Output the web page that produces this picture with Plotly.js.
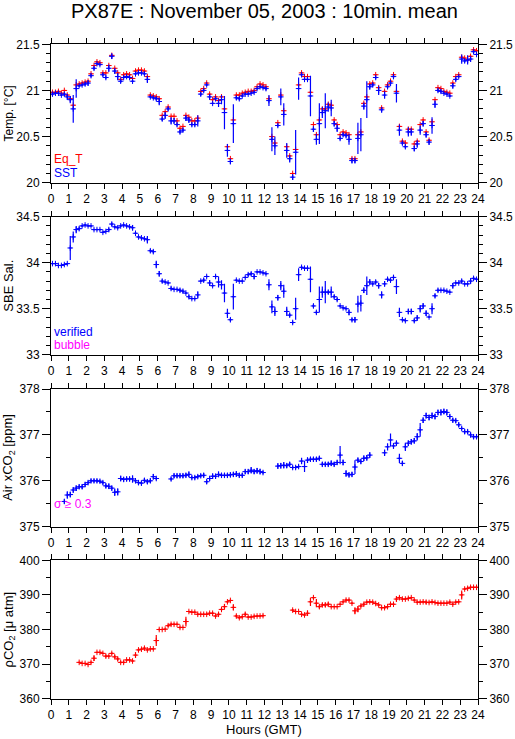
<!DOCTYPE html>
<html><head><meta charset="utf-8">
<script src="https://cdn.plot.ly/plotly-3.0.1.min.js"></script>
<style>html,body{margin:0;padding:0;background:#fff}#chart{width:515px;height:739px}</style>
</head><body><div id="chart"></div>
<script>
// 10-minute sample slots over the day (144 per series)
const SLOT_MINUTES = 10;
const NSLOT = 144;

const eqT = [20.98,20.98,20.99,20.97,21.00,20.95,20.91,20.84,21.06,21.07,21.08,21.09,
 21.10,21.18,21.27,21.31,21.30,21.19,21.19,21.27,21.38,21.24,21.19,21.12,
 21.17,21.18,21.17,21.13,21.21,21.22,21.22,21.21,21.15,20.95,20.94,20.93,
 20.91,20.73,20.77,20.82,20.72,20.72,20.67,20.59,20.61,20.73,20.71,20.67,
 20.67,20.70,20.99,21.02,21.08,20.96,20.90,20.93,20.89,20.93,20.80,20.39,
 20.26,20.68,20.95,20.95,20.97,20.98,20.99,20.99,21.00,21.04,21.07,21.06,
 21.04,20.91,20.50,20.43,20.65,20.95,20.78,20.39,20.29,20.10,20.36,21.06,
 21.19,21.15,21.15,20.98,20.63,20.52,20.68,20.80,20.80,20.85,20.84,20.68,
 20.63,20.52,20.55,20.54,20.52,20.26,20.26,20.52,20.55,20.86,20.93,21.07,
 21.08,21.17,21.03,20.81,20.99,21.06,21.10,21.17,20.99,20.61,20.45,20.43,
 20.58,20.58,20.42,20.45,20.63,20.68,20.55,20.46,20.66,20.90,21.03,21.02,
 20.99,20.98,20.97,21.08,21.15,21.17,21.36,21.35,21.33,21.37,21.44,21.43];

const sst = [20.96,20.97,20.97,20.95,20.96,20.93,20.90,20.80,21.02,21.05,21.06,21.07,
 21.08,21.16,21.24,21.29,21.28,21.17,21.14,21.24,21.37,21.21,21.15,21.10,
 21.14,21.15,21.14,21.10,21.18,21.19,21.19,21.18,21.12,20.93,20.92,20.91,
 20.88,20.69,20.73,20.80,20.67,20.67,20.63,20.55,20.57,20.70,20.68,20.63,
 20.63,20.67,20.96,21.00,21.06,20.93,20.86,20.91,20.86,20.90,20.76,20.35,
 20.23,20.64,20.92,20.91,20.94,20.96,20.96,20.97,20.98,21.02,21.04,21.03,
 21.02,20.89,20.47,20.40,20.62,20.93,20.74,20.35,20.26,20.06,20.33,21.02,
 21.17,21.12,21.12,20.94,20.58,20.47,20.64,20.76,20.78,20.82,20.81,20.64,
 20.59,20.48,20.52,20.51,20.47,20.24,20.24,20.48,20.52,20.83,20.90,21.04,
 21.06,21.14,21.00,20.79,20.95,21.04,21.08,21.15,20.97,20.57,20.43,20.39,
 20.55,20.55,20.37,20.42,20.57,20.64,20.52,20.44,20.62,20.85,21.00,20.99,
 20.97,20.96,20.94,21.05,21.12,21.15,21.34,21.32,21.33,21.34,21.42,21.39];

const sstSd = [0.02,0.01,0.01,0.01,0.02,0.03,0.04,0.15,0.10,0.01,0.01,0.02,
 0.03,0.02,0.02,0.01,0.01,0.02,0.02,0.04,0.03,0.03,0.04,0.02,
 0.01,0.01,0.01,0.01,0.01,0.01,0.01,0.01,0.04,0.01,0.01,0.02,
 0.04,0.02,0.04,0.02,0.04,0.03,0.02,0.02,0.02,0.03,0.03,0.02,
 0.02,0.06,0.02,0.02,0.01,0.03,0.01,0.02,0.04,0.05,0.18,0.07,
 0.03,0.21,0.02,0.02,0.01,0.01,0.01,0.01,0.01,0.01,0.01,0.01,
 0.02,0.06,0.13,0.10,0.02,0.09,0.12,0.08,0.04,0.03,0.24,0.12,
 0.01,0.01,0.02,0.22,0.03,0.06,0.22,0.06,0.19,0.05,0.09,0.03,
 0.04,0.02,0.02,0.02,0.06,0.03,0.03,0.17,0.18,0.04,0.20,0.03,
 0.02,0.02,0.05,0.03,0.04,0.02,0.03,0.02,0.10,0.06,0.02,0.02,
 0.05,0.04,0.03,0.04,0.05,0.03,0.03,0.03,0.09,0.04,0.02,0.02,
 0.01,0.01,0.01,0.03,0.02,0.01,0.05,0.02,0.05,0.03,0.02,0.01];

const sal = [33.99,33.99,33.97,33.97,33.98,33.99,34.16,34.28,34.36,34.37,34.40,34.41,
 34.40,34.40,34.36,34.36,34.36,34.33,34.34,34.36,34.42,34.39,34.38,34.40,
 34.41,34.40,34.39,34.38,34.32,34.28,34.27,34.26,34.25,34.13,34.12,33.98,
 33.88,33.80,33.79,33.78,33.72,33.71,33.71,33.70,33.69,33.67,33.63,33.61,
 33.61,33.65,33.80,33.81,33.85,33.78,33.75,33.85,33.79,33.76,33.67,33.45,
 33.38,33.63,33.81,33.80,33.80,33.84,33.87,33.88,33.85,33.90,33.90,33.89,
 33.88,33.76,33.52,33.47,33.62,33.75,33.69,33.47,33.43,33.35,33.50,33.87,
 33.95,33.94,33.94,33.82,33.53,33.46,33.60,33.68,33.68,33.68,33.68,33.63,
 33.60,33.53,33.51,33.50,33.46,33.38,33.38,33.55,33.56,33.70,33.75,33.79,
 33.77,33.79,33.75,33.65,33.77,33.82,33.81,33.84,33.74,33.46,33.38,33.37,
 33.47,33.47,33.37,33.40,33.50,33.53,33.45,33.41,33.50,33.64,33.70,33.70,
 33.70,33.69,33.68,33.75,33.78,33.78,33.80,33.77,33.77,33.80,33.83,33.82];

const salSd = [0.01,0.01,0.01,0.01,0.01,0.01,0.13,0.06,0.04,0.02,0.01,0.01,
 0.01,0.01,0.01,0.01,0.01,0.01,0.01,0.02,0.02,0.01,0.01,0.01,
 0.01,0.01,0.01,0.03,0.01,0.01,0.01,0.01,0.04,0.02,0.02,0.04,
 0.03,0.02,0.01,0.01,0.02,0.01,0.01,0.02,0.02,0.01,0.02,0.01,
 0.01,0.04,0.01,0.02,0.01,0.03,0.01,0.02,0.06,0.05,0.10,0.05,
 0.02,0.14,0.01,0.01,0.01,0.01,0.02,0.02,0.03,0.01,0.01,0.01,
 0.01,0.06,0.07,0.05,0.03,0.05,0.07,0.05,0.02,0.02,0.12,0.07,
 0.01,0.01,0.01,0.14,0.02,0.02,0.14,0.06,0.12,0.02,0.06,0.02,
 0.02,0.01,0.01,0.01,0.03,0.02,0.03,0.09,0.09,0.03,0.10,0.03,
 0.01,0.02,0.03,0.04,0.03,0.02,0.02,0.02,0.08,0.05,0.01,0.01,
 0.03,0.03,0.02,0.03,0.04,0.03,0.03,0.01,0.06,0.02,0.02,0.01,
 0.01,0.01,0.01,0.03,0.01,0.01,0.02,0.01,0.01,0.03,0.02,0.01];

const airXco2 = [null,null,null,null,375.55,375.69,375.70,375.80,375.84,375.87,375.87,375.92,
 375.96,376.00,376.00,376.00,375.99,375.96,375.89,375.88,375.84,375.75,375.76,376.05,
 376.03,376.04,376.04,376.04,376.00,375.96,375.95,376.01,375.98,376.00,376.09,376.05,
 null,null,null,null,376.04,376.11,376.11,376.11,376.11,376.12,376.14,376.07,
 376.07,376.09,376.11,376.12,375.98,376.05,376.10,376.10,376.14,376.12,376.12,376.12,
 376.13,376.14,376.15,376.12,376.12,376.20,376.20,376.23,376.20,376.22,376.20,376.18,
 null,null,null,null,376.32,376.33,376.34,376.33,376.36,376.29,376.29,376.31,
 376.43,376.31,376.45,376.47,376.47,376.47,376.49,376.36,376.36,376.36,376.38,376.36,
 376.40,376.56,376.40,376.16,376.13,376.14,376.30,376.45,376.42,376.49,376.50,376.56,
 null,null,null,null,376.61,376.74,376.89,376.76,376.82,376.49,376.38,376.74,
 376.82,376.85,376.87,376.96,377.11,377.32,377.42,377.38,377.42,377.40,377.49,377.49,
 377.51,377.49,377.40,377.32,377.31,377.22,377.14,377.07,377.07,377.00,376.96,376.96];

const airXco2Sd = [null,null,null,null,0.05,0.08,0.06,0.06,0.06,0.05,0.05,0.05,
 0.04,0.04,0.04,0.04,0.04,0.04,0.05,0.06,0.05,0.08,0.08,0.06,
 0.05,0.05,0.05,0.08,0.04,0.05,0.05,0.05,0.05,0.05,0.06,0.04,
 null,null,null,null,0.04,0.05,0.05,0.05,0.05,0.05,0.06,0.04,
 0.04,0.04,0.04,0.05,0.05,0.05,0.06,0.05,0.06,0.05,0.05,0.05,
 0.05,0.05,0.06,0.05,0.05,0.05,0.05,0.07,0.05,0.06,0.06,0.04,
 null,null,null,null,0.06,0.06,0.07,0.05,0.05,0.04,0.04,0.04,
 0.07,0.12,0.06,0.05,0.05,0.05,0.05,0.05,0.05,0.05,0.06,0.05,
 0.05,0.20,0.06,0.07,0.05,0.05,0.15,0.05,0.05,0.06,0.06,0.06,
 null,null,null,null,0.07,0.08,0.14,0.06,0.05,0.10,0.05,0.09,
 0.06,0.06,0.06,0.08,0.15,0.06,0.06,0.06,0.07,0.06,0.06,0.07,
 0.06,0.07,0.05,0.05,0.05,0.05,0.04,0.05,0.05,0.05,0.05,0.05];

const pco2 = [null,null,null,null,null,null,null,null,null,370.5,370.2,370.2,
 369.9,370.5,371.7,373.4,373.4,373.1,372.3,372.3,373.1,372.1,371.5,370.5,
 370.5,371.2,371.2,370.9,372.6,374.1,374.3,374.6,374.1,374.4,374.4,376.8,
 380.0,380.0,380.1,381.1,381.5,381.5,381.5,380.6,380.6,382.3,385.2,385.0,
 385.0,384.4,384.4,384.4,384.4,384.7,384.7,383.9,384.4,385.8,386.6,388.0,
 388.4,386.4,383.9,383.4,383.7,384.4,383.6,383.6,383.8,383.9,383.9,384.0,
 null,null,null,null,null,null,null,null,null,385.6,385.2,385.2,
 384.4,384.2,384.7,388.0,389.2,387.6,386.6,387.1,387.1,387.3,386.6,386.6,
 386.6,387.3,388.0,388.5,388.5,387.6,385.4,385.9,386.8,387.3,387.9,388.0,
 387.9,387.5,387.1,386.3,386.3,386.6,387.3,387.3,388.8,389.2,388.8,388.8,
 389.0,389.2,388.5,387.9,387.9,388.0,387.9,387.8,388.0,387.8,387.6,387.6,
 387.6,387.6,387.9,387.3,387.9,388.0,390.0,391.7,391.9,392.2,392.2,392.2];

const pco2Sd = [null,null,null,null,null,null,null,null,null,0.2,0.2,0.2,
 0.2,0.3,0.8,0.2,0.2,0.2,0.5,0.3,0.3,0.5,0.5,0.3,
 0.3,0.3,0.2,0.3,0.8,0.4,0.3,0.4,0.2,0.2,0.2,1.6,
 0.3,0.2,0.2,0.4,0.4,0.3,0.2,0.3,0.2,1.4,0.2,0.2,
 0.2,0.3,0.2,0.2,0.2,0.2,0.3,0.3,0.5,0.5,0.8,0.3,
 0.3,0.9,0.4,0.3,0.3,0.5,0.3,0.2,0.3,0.2,0.2,0.3,
 null,null,null,null,null,null,null,null,null,0.3,0.3,0.2,
 0.3,0.3,0.8,1.2,0.3,1.2,0.5,0.5,0.6,0.6,0.2,0.2,
 0.2,0.2,0.3,0.4,0.4,0.3,1.0,0.9,0.4,0.4,0.3,0.3,
 0.2,0.3,0.3,0.3,0.3,0.3,0.3,0.3,0.8,0.4,0.3,0.3,
 0.3,0.3,0.3,0.3,0.3,0.3,0.5,0.3,0.3,0.3,0.3,0.3,
 0.2,0.2,0.3,0.3,0.3,0.3,1.3,0.3,0.3,0.2,0.2,0.2];

// slot centre times in hours
const hours = [];
for (let i = 0; i < NSLOT; i++) hours.push((i + 0.5) * SLOT_MINUTES / 60);

const W = 515, H = 739;
const RED = '#ff0000', BLUE = '#0000ff', MAG = '#ff00ff';
const FONT = 'Liberation Sans, Arial, Helvetica, sans-serif';
const XD = [51 / W, 478 / W];
const yd = (top, bot) => [1 - bot / H, 1 - top / H];
const PANELS = [yd(44.3, 182.7), yd(216.7, 354.7), yd(389, 526.7), yd(560.3, 698.7)];

function series(y, sd, color, xa, ya) {
  const t = {
    type: 'scatter', mode: 'markers', x: hours, y: y, xaxis: xa, yaxis: ya,
    marker: {symbol: 'cross-thin', size: 4, color: color, line: {color: color, width: 1}},
    error_x: {type: 'constant', value: SLOT_MINUTES / 120, width: 0, thickness: 1, color: color},
    hoverinfo: 'skip', showlegend: false, cliponaxis: true
  };
  if (sd) t.error_y = {type: 'data', array: sd, width: 0, thickness: 1.2, color: color, visible: true};
  return t;
}
// empty carrier traces so the right-hand duplicate axes get drawn
const carrier = (xa, ya) => ({type: 'scatter', mode: 'markers', x: [], y: [], xaxis: xa, yaxis: ya,
  showlegend: false, hoverinfo: 'skip'});

const data = [
  series(eqT, null, RED, 'x', 'y'),
  series(sst, sstSd, BLUE, 'x', 'y'),
  series(sal, salSd, BLUE, 'x2', 'y2'),
  series(airXco2, airXco2Sd, BLUE, 'x3', 'y3'),
  series(pco2, pco2Sd, RED, 'x4', 'y4'),
  carrier('x', 'y5'), carrier('x2', 'y6'), carrier('x3', 'y7'), carrier('x4', 'y8')
];

const tickfont = {family: FONT, size: 12, color: '#000'};
function xax(anchor) {
  return {domain: XD, range: [0, 24], anchor: anchor, tickmode: 'linear', tick0: 0, dtick: 1,
    ticks: 'outside', ticklen: 5, tickwidth: 1, tickcolor: '#000', showline: true, linecolor: '#000',
    linewidth: 1, mirror: 'ticks', showgrid: false, zeroline: false, tickfont: tickfont, fixedrange: true};
}
function yax(domain, range, dtick, mdtick, anchor) {
  return {domain: domain, range: range, anchor: anchor, tickmode: 'linear', tick0: range[0], dtick: dtick,
    ticks: 'outside', ticklen: 8, tickwidth: 1, tickcolor: '#000', showline: true, linecolor: '#000',
    linewidth: 1, mirror: true, showgrid: false, zeroline: false, tickfont: tickfont, fixedrange: true,
    minor: {dtick: mdtick, ticklen: 4, ticks: 'outside', tickcolor: '#000', showgrid: false}};
}
function yright(over, domain, range, dtick, mdtick, anchor) {
  return {overlaying: over, side: 'right', anchor: anchor, domain: domain, range: range, tickmode: 'linear',
    tick0: range[0], dtick: dtick, ticks: 'outside', ticklen: 8, tickwidth: 1, tickcolor: '#000',
    showline: false, showgrid: false, zeroline: false, tickfont: tickfont, fixedrange: true,
    minor: {dtick: mdtick, ticklen: 4, ticks: 'outside', tickcolor: '#000', showgrid: false}};
}

const R1 = [20, 21.5], R2 = [33, 34.5], R3 = [375, 378], R4 = [360, 400];
const mid = d => (d[0] + d[1]) / 2;

const ann = [];
function addText(text, xpx, ypx, opts) {
  ann.push(Object.assign({text: text, xref: 'paper', yref: 'paper', x: xpx / W, y: 1 - ypx / H,
    showarrow: false, xanchor: 'left', yanchor: 'middle', borderpad: 0,
    font: {family: FONT, size: 13, color: '#000'}}, opts || {}));
}
addText('PX87E : November 05, 2003 : 10min. mean', 264, 11, {xanchor: 'center', font: {family: FONT, size: 20, color: '#000'}});
const ytitles = ['Temp. [°C]', 'SBE Sal.', 'Air xCO<sub>2</sub> [ppm]', 'ρCO<sub>2</sub> [μ atm]'];
const ysizes = [12, 13, 13, 13];
ytitles.forEach((t, k) => {
  ann.push({text: t, xref: 'paper', yref: 'paper', x: 9 / W, y: mid(PANELS[k]), showarrow: false,
    textangle: -90, xanchor: 'center', yanchor: 'middle', font: {family: FONT, size: ysizes[k], color: '#000'}});
});
addText('Eq_T', 53, 159, {font: {family: FONT, size: 12, color: RED}});
addText('SST', 53, 172.5, {font: {family: FONT, size: 12, color: BLUE}});
addText('verified', 53, 331.5, {font: {family: FONT, size: 12, color: BLUE}});
addText('bubble', 53, 345, {font: {family: FONT, size: 12, color: MAG}});
addText('σ ≥ 0.3', 53, 504, {font: {family: FONT, size: 12, color: MAG}});
addText('Hours (GMT)', 264, 729, {xanchor: 'center', font: {family: FONT, size: 13, color: '#000'}});

const layout = {
  width: W, height: H, margin: {l: 0, r: 0, t: 0, b: 0}, paper_bgcolor: '#fff', plot_bgcolor: '#fff',
  showlegend: false, font: {family: FONT, size: 12, color: '#000'},
  xaxis: xax('y'), xaxis2: xax('y2'), xaxis3: xax('y3'), xaxis4: xax('y4'),
  yaxis: yax(PANELS[0], R1, 0.5, 0.1, 'x'),
  yaxis2: yax(PANELS[1], R2, 0.5, 0.1, 'x2'),
  yaxis3: yax(PANELS[2], R3, 1, 0.5, 'x3'),
  yaxis4: yax(PANELS[3], R4, 10, 5, 'x4'),
  yaxis5: yright('y', PANELS[0], R1, 0.5, 0.1, 'x'),
  yaxis6: yright('y2', PANELS[1], R2, 0.5, 0.1, 'x2'),
  yaxis7: yright('y3', PANELS[2], R3, 1, 0.5, 'x3'),
  yaxis8: yright('y4', PANELS[3], R4, 10, 5, 'x4'),
  annotations: ann
};

Plotly.newPlot('chart', data, layout, {staticPlot: true, displayModeBar: false});
</script></body></html>
